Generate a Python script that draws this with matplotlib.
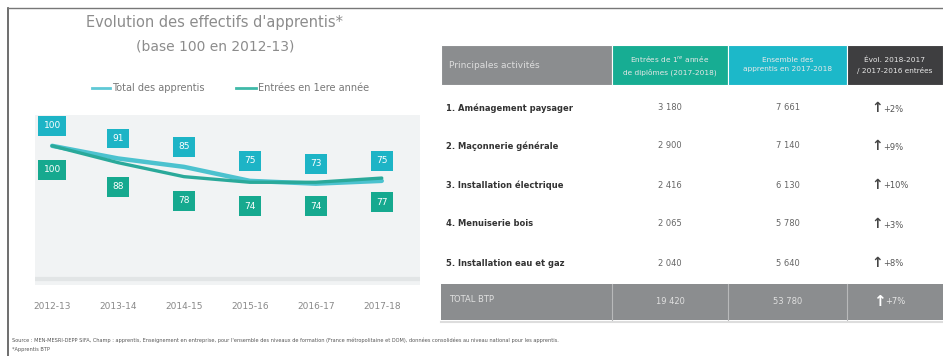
import matplotlib
matplotlib.use("Agg")
import matplotlib.pyplot as plt
from matplotlib.patches import Rectangle

# chart data
years = ["2012-13", "2013-14", "2014-15", "2015-16", "2016-17", "2017-18"]
total_apprentis = [100, 91, 85, 75, 73, 75]
entrees_1ere = [100, 88, 78, 74, 74, 77]

# table data
activites = ["1. Aménagement paysager", "2. Maçonnerie générale", "3. Installation électrique",
             "4. Menuiserie bois", "5. Installation eau et gaz"]
entrees_dipl = ["3 180", "2 900", "2 416", "2 065", "2 040"]
ensemble = ["7 661", "7 140", "6 130", "5 780", "5 640"]
evolution = ["+2%", "+9%", "+10%", "+3%", "+8%"]
total_row = ["TOTAL BTP", "19 420", "53 780", "+7%"]
headers = ["Principales activités",
           "Entrées de 1$^{re}$ année\nde diplômes (2017-2018)",
           "Ensemble des\napprentis en 2017-2018",
           "Évol. 2018-2017\n/ 2017-2016 entrées"]

C_BLUE = "#1db4c6"
C_GREEN = "#16a98f"
C_GREY_TXT = "#8c8c8c"

fig = plt.figure(figsize=(9.43, 3.56), dpi=100)
fig.patch.set_facecolor("white")

# layout layer in pixel coordinates
lay = fig.add_axes([0, 0, 1, 1])
lay.set_xlim(0, 943)
lay.set_ylim(356, 0)
lay.axis("off")

# frame
lay.plot([8, 8], [8, 356], color="#555555", lw=1.2)
lay.plot([8, 943], [8, 8], color="#777777", lw=1.0)

# chart titles and legend
lay.text(215, 22, "Evolution des effectifs d'apprentis*", ha="center", va="center",
         fontsize=10.5, color=C_GREY_TXT)
lay.text(215, 47, "(base 100 en 2012-13)", ha="center", va="center",
         fontsize=10, color=C_GREY_TXT)
lay.plot([92, 110], [88, 88], color="#5fc9d6", lw=2)
lay.text(112, 88, "Total des apprentis", ha="left", va="center", fontsize=7, color="#777777")
lay.plot([236, 256], [88, 88], color="#3fb9a8", lw=2)
lay.text(258, 88, "Entrées en 1ere année", ha="left", va="center", fontsize=7, color="#777777")

# chart
ax = fig.add_axes([35 / 943, 1 - 285 / 356, 385 / 943, 170 / 356])
ax.set_facecolor("#f1f3f4")
ax.set_xlim(-0.26, 5.58)
ax.set_ylim(0.7, 122)
x = list(range(len(years)))
ax.plot(x, total_apprentis, color="#4cc2cf", lw=3.2, solid_joinstyle="round", solid_capstyle="round")
ax.plot(x, entrees_1ere, color="#2aa99a", lw=2.4, solid_joinstyle="round", solid_capstyle="round")
for i, v in enumerate(total_apprentis):
    ax.annotate(str(v), (i, v), xytext=(0, 20), textcoords="offset pixels",
                ha="center", va="center", fontsize=6.5, color="white",
                bbox=dict(boxstyle="square,pad=0.6", fc=C_BLUE, ec="none"))
for i, v in enumerate(entrees_1ere):
    ax.annotate(str(v), (i, v), xytext=(0, -24), textcoords="offset pixels",
                ha="center", va="center", fontsize=6.5, color="white",
                bbox=dict(boxstyle="square,pad=0.6", fc=C_GREEN, ec="none"))
ax.axhline(5, color="#e2e5e6", lw=3)
ax.set_xticks(x)
ax.set_xticklabels(years, fontsize=6.5, color="#888888")
ax.tick_params(axis="x", length=0, pad=12)
ax.set_yticks([])
for s in ax.spines.values():
    s.set_visible(False)

# table
col_x = [441, 612, 728, 847, 943]
head_colors = ["#8b8d8f", "#17ad93", "#1cb8c9", "#3e3e40"]
for c in range(4):
    lay.add_patch(Rectangle((col_x[c], 45), col_x[c + 1] - col_x[c], 40,
                            fc=head_colors[c], ec="white", lw=0.8))
    if c == 0:
        lay.text(col_x[c] + 8, 65, headers[c], ha="left", va="center", fontsize=6.5, color="#dddddd")
    else:
        lay.text((col_x[c] + col_x[c + 1]) / 2, 65, headers[c], ha="center", va="center",
                 fontsize=5.3, color="#e8e8e8", linespacing=1.6)

row_y = [108, 146, 185, 224, 263]
for r, yy in enumerate(row_y):
    lay.text(col_x[0] + 5, yy, activites[r], ha="left", va="center", fontsize=6,
             color="#333333", fontweight="bold")
    lay.text((col_x[1] + col_x[2]) / 2, yy, entrees_dipl[r], ha="center", va="center",
             fontsize=6, color="#666666")
    lay.text((col_x[2] + col_x[3]) / 2, yy, ensemble[r], ha="center", va="center",
             fontsize=6, color="#666666")
    lay.text(col_x[3] + 30, yy, "↑", ha="center", va="center", fontsize=10,
             color="#444444", fontweight="bold")
    lay.text(col_x[3] + 36, yy + 1, evolution[r], ha="left", va="center", fontsize=6,
             color="#555555")

lay.add_patch(Rectangle((col_x[0], 284), col_x[4] - col_x[0], 36, fc="#8b8d8f", ec="none"))
for c in range(1, 4):
    lay.plot([col_x[c], col_x[c]], [284, 320], color="#b8b9ba", lw=0.8)
lay.text(col_x[0] + 8, 300, total_row[0], ha="left", va="center", fontsize=6, color="#e0e0e0")
lay.text((col_x[1] + col_x[2]) / 2, 302, total_row[1], ha="center", va="center", fontsize=6, color="#e0e0e0")
lay.text((col_x[2] + col_x[3]) / 2, 302, total_row[2], ha="center", va="center", fontsize=6, color="#e0e0e0")
lay.text(col_x[3] + 32, 301, "↑", ha="center", va="center", fontsize=11, color="white", fontweight="bold")
lay.text(col_x[3] + 38, 302, total_row[3], ha="left", va="center", fontsize=6, color="#e8e8e8")
lay.plot([441, 943], [322, 322], color="#dddddd", lw=1.5)

# source
lay.text(12, 340, "Source : MEN-MESRI-DEPP SIFA, Champ : apprentis, Enseignement en entreprise, pour l'ensemble des niveaux de formation (France métropolitaine et DOM), données consolidées au niveau national pour les apprentis.",
         ha="left", va="center", fontsize=3.6, color="#555555")
lay.text(12, 349, "*Apprentis BTP", ha="left", va="center", fontsize=3.6, color="#555555")

fig.savefig("out.png", dpi=100, facecolor="white")
